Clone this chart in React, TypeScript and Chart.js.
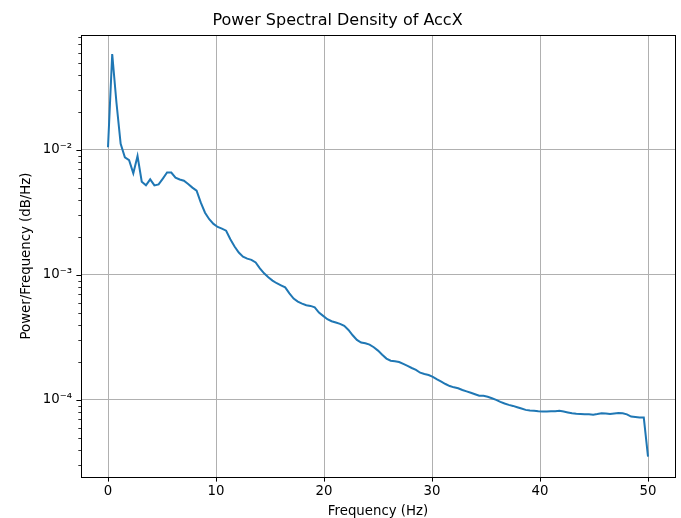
import React, { useEffect, useRef } from "react";
import { Chart, registerables } from "chart.js";
Chart.register(...registerables);

const TITLE = "Power Spectral Density of AccX";
const X_LABEL = "Frequency (Hz)";
const Y_LABEL = "Power/Frequency (dB/Hz)";

const FREQUENCIES = [
  0, 0.3906, 0.7813, 1.1719, 1.5625, 1.9531, 2.3438, 2.7344, 3.125, 3.5156,
  3.9063, 4.2969, 4.6875, 5.0781, 5.4688, 5.8594, 6.25, 6.6406, 7.0313, 7.4219,
  7.8125, 8.2031, 8.5938, 8.9844, 9.375, 9.7656, 10.1563, 10.5469, 10.9375, 11.3281,
  11.7188, 12.1094, 12.5, 12.8906, 13.2813, 13.6719, 14.0625, 14.4531, 14.8438, 15.2344,
  15.625, 16.0156, 16.4063, 16.7969, 17.1875, 17.5781, 17.9688, 18.3594, 18.75, 19.1406,
  19.5313, 19.9219, 20.3125, 20.7031, 21.0938, 21.4844, 21.875, 22.2656, 22.6563, 23.0469,
  23.4375, 23.8281, 24.2188, 24.6094, 25, 25.3906, 25.7813, 26.1719, 26.5625, 26.9531,
  27.3438, 27.7344, 28.125, 28.5156, 28.9063, 29.2969, 29.6875, 30.0781, 30.4688, 30.8594,
  31.25, 31.6406, 32.0313, 32.4219, 32.8125, 33.2031, 33.5938, 33.9844, 34.375, 34.7656,
  35.1563, 35.5469, 35.9375, 36.3281, 36.7188, 37.1094, 37.5, 37.8906, 38.2813, 38.6719,
  39.0625, 39.4531, 39.8438, 40.2344, 40.625, 41.0156, 41.4063, 41.7969, 42.1875, 42.5781,
  42.9688, 43.3594, 43.75, 44.1406, 44.5313, 44.9219, 45.3125, 45.7031, 46.0938, 46.4844,
  46.875, 47.2656, 47.6563, 48.0469, 48.4375, 48.8281, 49.2188, 49.6094, 50,
];

const PSD_VALUES = [
  0.0105, 0.0586, 0.024, 0.0112, 0.00873, 0.0083, 0.0065, 0.00895, 0.00558, 0.00521,
  0.00582, 0.00521, 0.0053, 0.0059, 0.0066, 0.0066, 0.006, 0.0058, 0.00568, 0.00535,
  0.005, 0.00473, 0.00379, 0.00315, 0.00279, 0.00256, 0.00242, 0.00235, 0.00226, 0.00193,
  0.00169, 0.00151, 0.0014, 0.00135, 0.00132, 0.00126, 0.00113, 0.00103, 0.000957, 0.000901,
  0.000858, 0.000826, 0.000796, 0.000713, 0.000647, 0.000612, 0.00059, 0.000572, 0.000565, 0.000551,
  0.0005, 0.00047, 0.000442, 0.000426, 0.000416, 0.000406, 0.000391, 0.000363, 0.000329, 0.000302,
  0.000288, 0.000284, 0.000277, 0.000264, 0.000248, 0.00023, 0.000214, 0.000206, 0.000204, 0.000201,
  0.000194, 0.000187, 0.00018, 0.000174, 0.000165, 0.000161, 0.000158, 0.000153, 0.000146, 0.00014,
  0.000134, 0.000129, 0.000126, 0.000124, 0.00012, 0.000117, 0.000114, 0.000111, 0.000108, 0.000108,
  0.000106, 0.000103, 0.0001, 0.0000964, 0.0000935, 0.0000912, 0.0000895, 0.0000873, 0.0000853, 0.0000832,
  0.0000822, 0.0000818, 0.0000812, 0.0000808, 0.0000806, 0.0000812, 0.0000812, 0.0000818, 0.0000806, 0.0000794,
  0.0000783, 0.0000775, 0.0000771, 0.0000766, 0.0000766, 0.0000762, 0.0000771, 0.0000783, 0.0000779, 0.0000771,
  0.0000779, 0.0000787, 0.0000783, 0.0000766, 0.0000736, 0.000073, 0.0000722, 0.0000722, 0.0000352,
];

const X_TICKS = [0, 10, 20, 30, 40, 50];
const Y_MAJOR_TICKS = [1e-4, 1e-3, 1e-2];
const Y_MAJOR_LABELS = ["10\u207B\u2074", "10\u207B\u00B3", "10\u207B\u00B2"];
const Y_MINOR_TICKS = [
  3e-5, 4e-5, 5e-5, 6e-5, 7e-5, 8e-5, 9e-5,
  2e-4, 3e-4, 4e-4, 5e-4, 6e-4, 7e-4, 8e-4, 9e-4,
  2e-3, 3e-3, 4e-3, 5e-3, 6e-3, 7e-3, 8e-3, 9e-3,
  2e-2, 3e-2, 4e-2, 5e-2, 6e-2, 7e-2, 8e-2,
];

const FONT = "'DejaVu Sans', sans-serif";

const isMajor = (v: number) => Y_MAJOR_TICKS.some((m) => Math.abs(m - v) / m < 1e-6);

const frame = {
  id: "mplFrame",
  afterDraw(chart: any) {
    const { ctx, chartArea } = chart;
    const { left, right, top, bottom } = chartArea;
    const xs = chart.scales.x;
    const ys = chart.scales.y;
    ctx.save();
    ctx.strokeStyle = "#000";
    ctx.lineWidth = 1;
    // x ticks
    for (const v of X_TICKS) {
      const px = Math.round(xs.getPixelForValue(v)) + 0.5;
      ctx.beginPath();
      ctx.moveTo(px, bottom);
      ctx.lineTo(px, bottom + 4.6);
      ctx.stroke();
    }
    // y major ticks
    for (const v of Y_MAJOR_TICKS) {
      const py = Math.round(ys.getPixelForValue(v)) + 0.5;
      ctx.beginPath();
      ctx.moveTo(left, py);
      ctx.lineTo(left - 4.6, py);
      ctx.stroke();
    }
    ctx.lineWidth = 0.8;
    for (const v of Y_MINOR_TICKS) {
      const py = Math.round(ys.getPixelForValue(v)) + 0.5;
      ctx.beginPath();
      ctx.moveTo(left, py);
      ctx.lineTo(left - 2.7, py);
      ctx.stroke();
    }
    ctx.lineWidth = 1;
    ctx.strokeRect(Math.round(left) + 0.5, Math.round(top) + 0.5, Math.round(right - left), Math.round(bottom - top));
    ctx.restore();
  },
};

export default function App() {
  const ref = useRef<HTMLCanvasElement | null>(null);
  useEffect(() => {
    if (!ref.current) return;
    const chart = new Chart(ref.current, {
      type: "line",
      data: {
        datasets: [
          {
            data: FREQUENCIES.map((f, i) => ({ x: f, y: PSD_VALUES[i] })),
            borderColor: "#1f77b4",
            borderWidth: 2,
            pointRadius: 0,
            tension: 0,
            fill: false,
          },
        ],
      },
      options: {
        animation: false,
        responsive: false,
        events: [],
        layout: { padding: { top: 0, right: 6, left: 0, bottom: 0 } },
        plugins: {
          legend: { display: false },
          tooltip: { enabled: false },
          title: {
            display: true,
            text: TITLE,
            color: "#000",
            font: { family: FONT, size: 16, weight: "normal", lineHeight: 1.2 },
            padding: { top: 11.4, bottom: 4.4 },
          },
        },
        scales: {
          x: {
            type: "linear",
            min: -2.5,
            max: 52.5,
            afterBuildTicks: (s: any) => {
              s.ticks = X_TICKS.map((v) => ({ value: v }));
            },
            afterFit: (s: any) => {
              s.height = 41;
            },
            ticks: {
              color: "#000",
              font: { family: FONT, size: 13.3 },
              padding: 7,
              maxRotation: 0,
              autoSkip: false,
              callback: (v: any) => String(v),
            },
            grid: { color: "#b0b0b0", lineWidth: 1, drawTicks: false },
            border: { display: false },
            title: {
              display: true,
              text: X_LABEL,
              color: "#000",
              font: { family: FONT, size: 13.3, lineHeight: 1 },
              padding: { top: 0, bottom: 0 },
            },
          },
          y: {
            type: "logarithmic",
            min: 2.415e-5,
            max: 0.0832,
            afterBuildTicks: (s: any) => {
              s.ticks = [...Y_MAJOR_TICKS, ...Y_MINOR_TICKS]
                .sort((a, b) => a - b)
                .map((v) => ({ value: v, major: isMajor(v) }));
            },
            afterFit: (s: any) => {
              s.width = 81;
            },
            ticks: {
              color: "#000",
              font: { family: FONT, size: 13.3 },
              padding: 9,
              autoSkip: false,
              callback: (v: any) => {
                const idx = Y_MAJOR_TICKS.findIndex((m) => Math.abs(m - v) / m < 1e-6);
                return idx >= 0 ? Y_MAJOR_LABELS[idx] : "";
              },
            },
            grid: {
              drawTicks: false,
              lineWidth: 1,
              color: (c: any) => (c.tick && isMajor(c.tick.value) ? "#b0b0b0" : "rgba(0,0,0,0)"),
            },
            border: { display: false },
            title: {
              display: true,
              text: Y_LABEL,
              color: "#000",
              font: { family: FONT, size: 13.3, lineHeight: 1 },
              padding: { top: 20.35, bottom: 0 },
            },
          },
        },
      },
      plugins: [frame],
    } as any);
    return () => chart.destroy();
  }, []);
  return (
    <div style={{ position: "fixed", left: 0, top: 0, width: 681, height: 518, background: "#fff" }}>
      <canvas ref={ref} width={681} height={518} style={{ display: "block", width: 681, height: 518 }} />
    </div>
  );
}
